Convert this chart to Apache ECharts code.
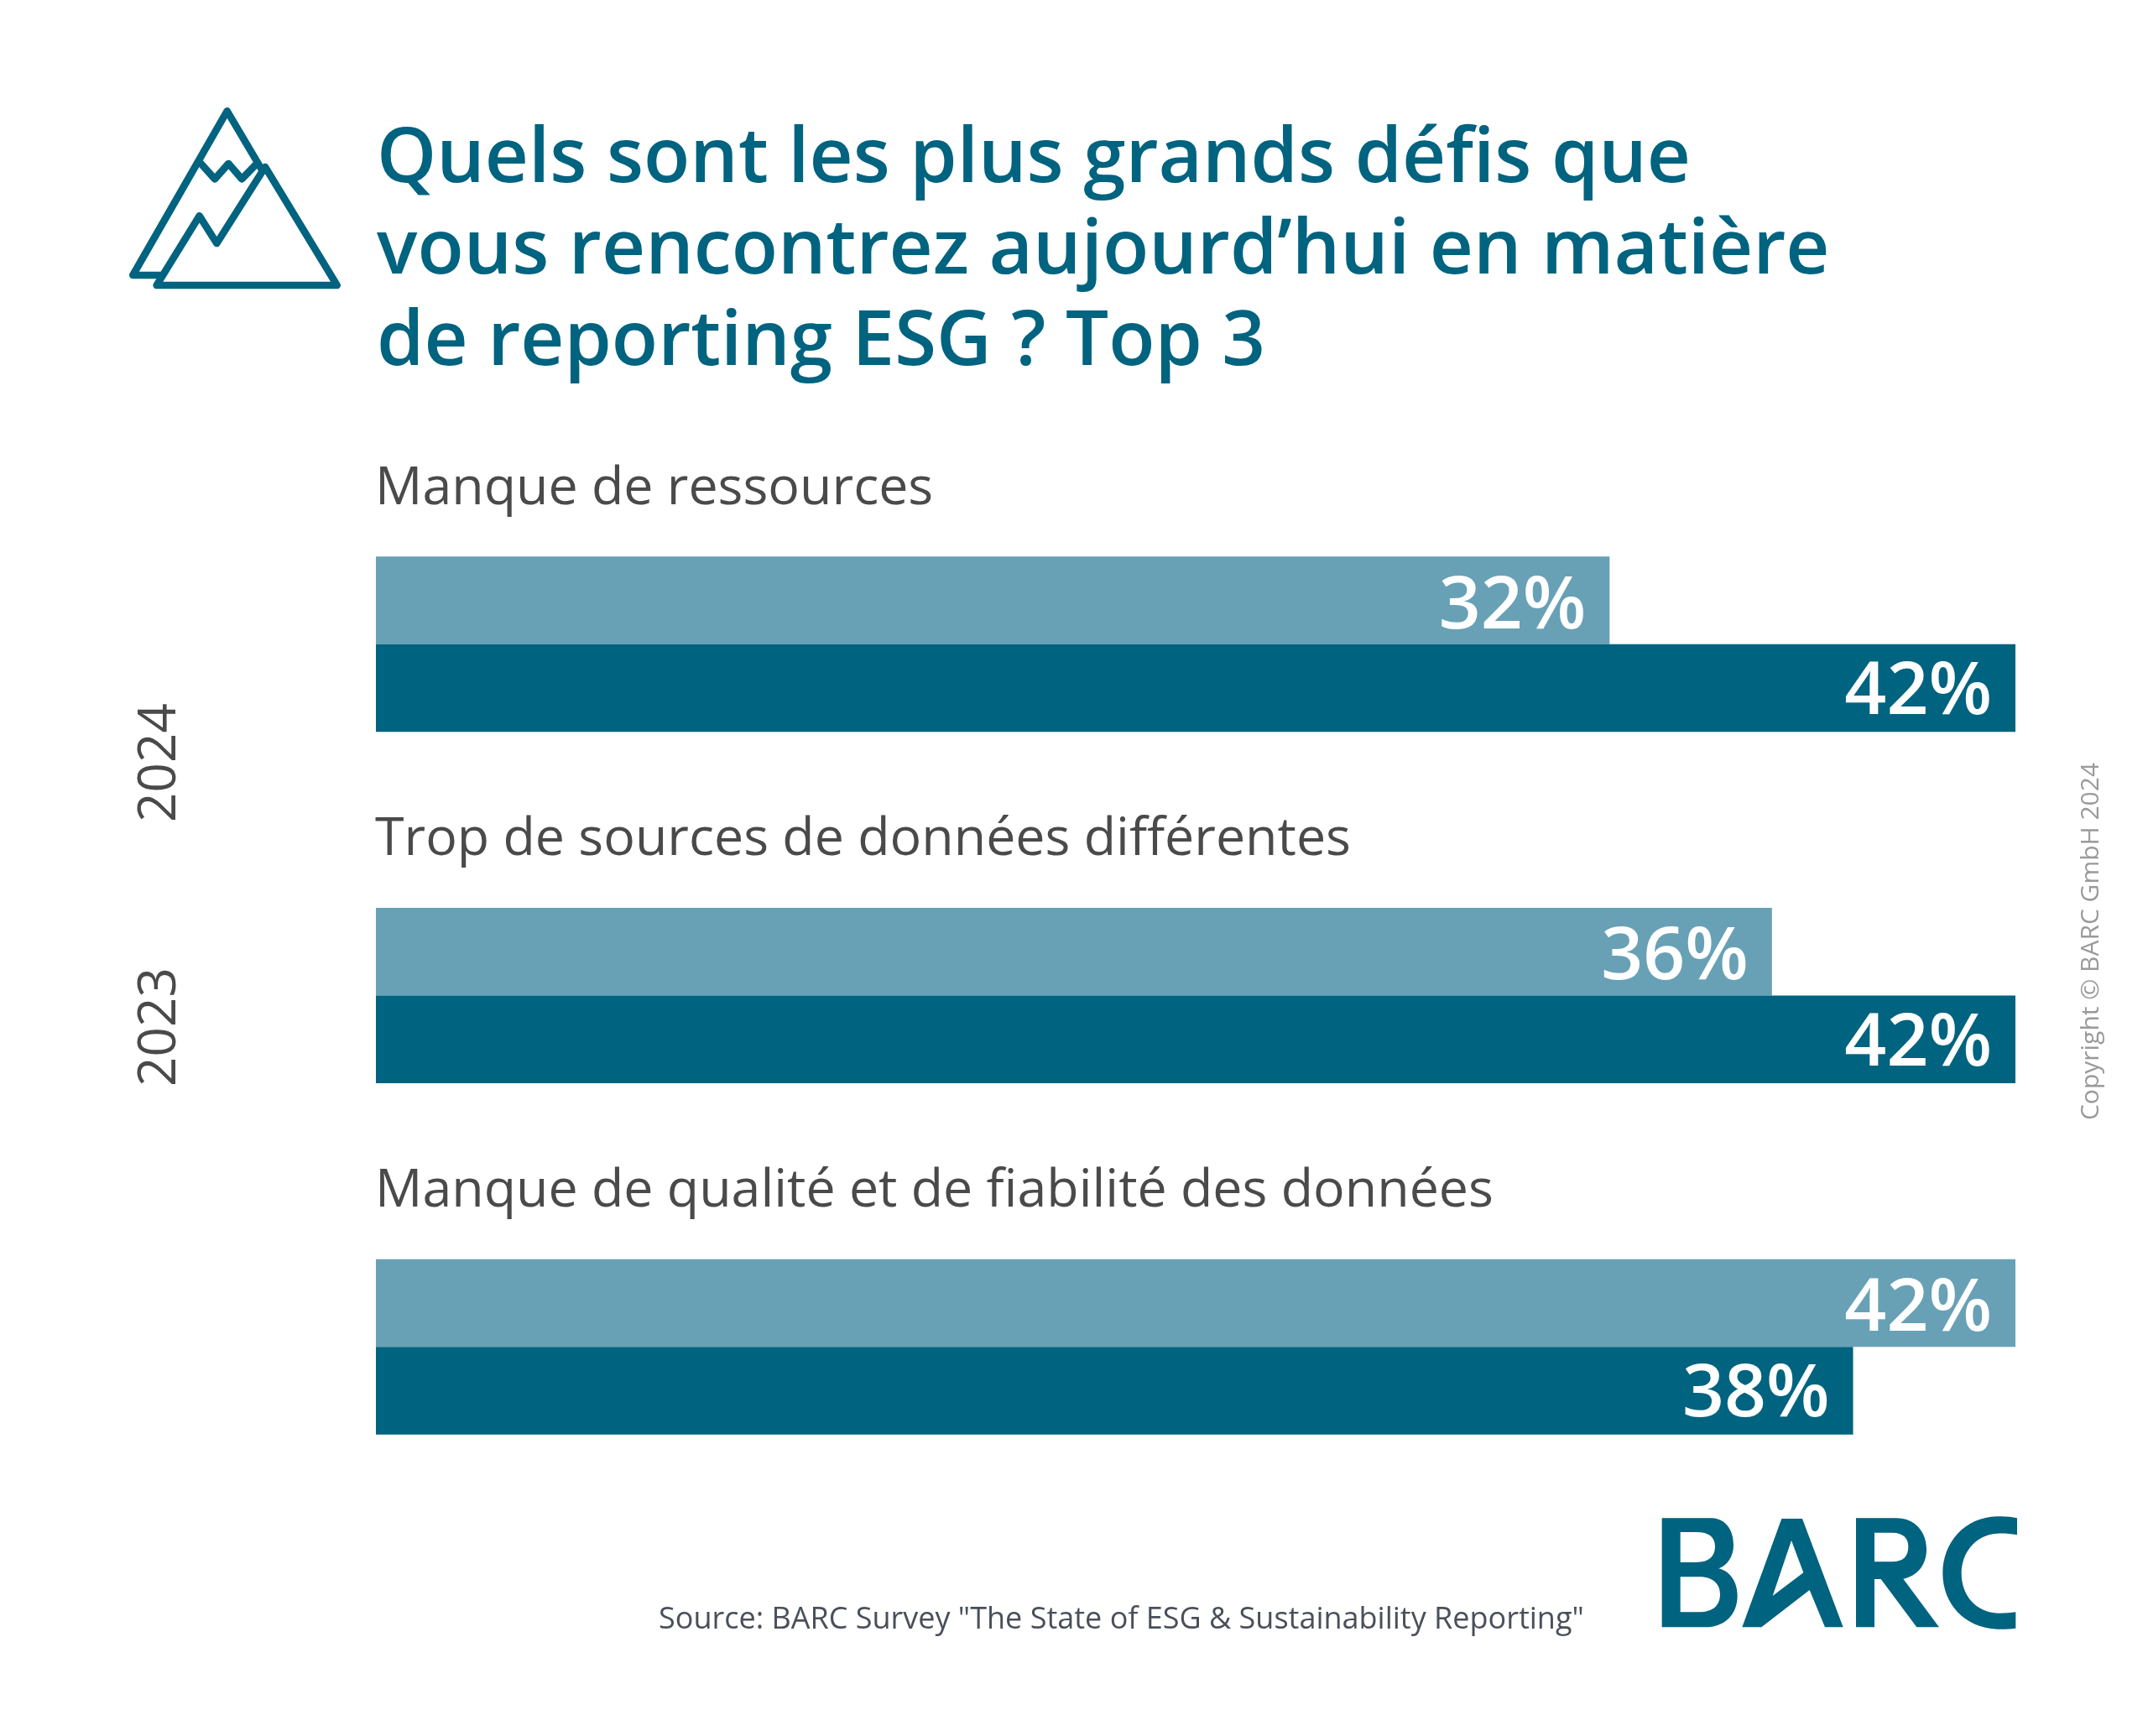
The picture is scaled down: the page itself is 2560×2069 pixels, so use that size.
<!DOCTYPE html>
<html><head><meta charset="utf-8">
<style>html,body{margin:0;padding:0;background:#fff}#c{width:2560px;height:2069px}</style>
<script src="https://cdn.jsdelivr.net/npm/echarts@6/dist/echarts.min.js"></script>
</head><body><div id="c"></div>
<script>
const categories = ["Manque de ressources", "Trop de sources de données différentes", "Manque de qualité et de fiabilité des données"];
const values2023 = [32, 36, 42];
const values2024 = [42, 42, 38];
const years = ["2024", "2023"];
const titleText = "Quels sont les plus grands défis que\nvous rencontrez aujourd’hui en matière\nde reporting ESG ? Top 3";
const sourceText = 'Source: BARC Survey "The State of ESG & Sustainability Reporting"';
const copyrightText = "Copyright © BARC GmbH 2024";

const DARK = "#00637f", LIGHT = "#68a1b5", FONT = "Open Sans";
const AXIS_MIN = 1.6, AXIS_MAX = 42;
const logoPath = "M122 88 L300 88 C350 90 378 130 378 185 C378 225 355 258 325 268 C365 278 392 315 392 365 C392 430 350 478 275 478 L122 478 Z " +
 "M188 138 L188 246 L245 246 C290 246 312 225 312 190 C312 155 290 138 245 138 Z " +
 "M188 298 L188 424 L255 424 C305 424 330 400 330 360 C330 320 300 298 255 298 Z " +
 "M550 90 L624 90 L770 478 L705 478 L650 345 L478 478 L409 478 Z M585 168 L518 366 L628 283 Z " +
 "M816 88 L960 88 C1025 88 1068 135 1068 200 C1068 255 1035 295 985 305 L1113 478 L1033 478 L905 306 L882 306 L882 478 L816 478 Z " +
 "M882 140 L882 244 L945 244 C985 244 1003 225 1003 190 C1003 160 985 140 945 140 Z " +
 "M1392 88 L1392 148 C1360 142 1340 142 1320 143 C1240 148 1193 215 1193 285 C1193 365 1245 425 1325 428 C1350 428 1370 426 1387 424 L1387 482 C1365 485 1345 486 1320 485 C1205 480 1126 395 1126 285 C1126 175 1205 85 1320 82 C1350 81 1372 83 1392 88 Z";
echarts.graphic.registerShape("barcLogo", echarts.graphic.extendPath(logoPath, {}));

const iconLine = pts => ({
  type: "polyline", x: 130, y: 100, scaleX: 1/3, scaleY: 1/3,
  shape: { points: pts },
  style: { stroke: DARK, fill: null, lineWidth: 26, lineJoin: "round", lineCap: "round" }
});
const barLabel = dy => ({
  show: true, position: "insideRight", distance: 28, formatter: "{c}%",
  color: "#fff", fontFamily: FONT, fontSize: 87.5, fontWeight: 600, offset: [0, dy]
});
const chart = echarts.init(document.getElementById("c"), null, { renderer: "canvas" });
chart.setOption({
  animation: false,
  backgroundColor: "#fff",
  title: {
    text: titleText, left: 444, top: 132,
    textStyle: { color: DARK, fontFamily: FONT, fontSize: 90.6, fontWeight: 600, lineHeight: 109 }
  },
  grid: { left: 448, width: 1954, top: 558.5, height: 1256 },
  xAxis: { type: "value", min: AXIS_MIN, max: AXIS_MAX, show: false },
  yAxis: {
    type: "category", inverse: true, data: categories,
    axisLine: { show: false }, axisTick: { show: false }, splitLine: { show: false },
    axisLabel: { show: false }
  },
  series: [
    { name: "2023", type: "bar", data: values2023, barWidth: 104.5, barGap: 0, itemStyle: { color: LIGHT }, label: barLabel(8), z: 2 },
    { name: "2024", type: "bar", data: values2024, barWidth: 104.5, barGap: 0, itemStyle: { color: DARK }, label: barLabel(6), z: 2 },
    { name: "categories", type: "scatter", symbolSize: 0, silent: true, clip: false, z: 3,
      itemStyle: { opacity: 1 },
      data: categories.map((c, i) => [AXIS_MIN, i]),
      label: {
        show: true, position: "right", distance: 0, offset: [-1, -185],
        formatter: p => categories[p.dataIndex],
        color: "#4a4a4a", fontFamily: FONT, fontSize: 62.7
      }
    }
  ],
  graphic: [
    iconLine([[185,684],[85,684],[422,97],[545,305]]),
    iconLine([[322,278],[378,340],[427,285],[475,340],[528,285]]),
    iconLine([[170,720],[323,472],[385,570],[558,297],[815,720],[170,720]]),
    { type: "text", x: 191, y: 909, rotation: Math.PI/2, style: { text: years[0], fill: "#4a4a4a", font: "62px 'Open Sans'", align: "center", verticalAlign: "middle" } },
    { type: "text", x: 191, y: 1224, rotation: Math.PI/2, style: { text: years[1], fill: "#4a4a4a", font: "62px 'Open Sans'", align: "center", verticalAlign: "middle" } },
    { type: "text", x: 2492, y: 1122, rotation: Math.PI/2, style: { text: copyrightText, fill: "#9a9a9a", font: "30px 'Open Sans'", align: "center", verticalAlign: "middle" } },
    { type: "text", x: 785, y: 1931, style: { text: sourceText, fill: "#4a4f5a", font: "36px 'Open Sans'", align: "left", verticalAlign: "middle" } },
    { type: "barcLogo", x: 1940, y: 1780, scaleX: 1/3, scaleY: 1/3, style: { fill: DARK } }
  ]
});
</script></body></html>
